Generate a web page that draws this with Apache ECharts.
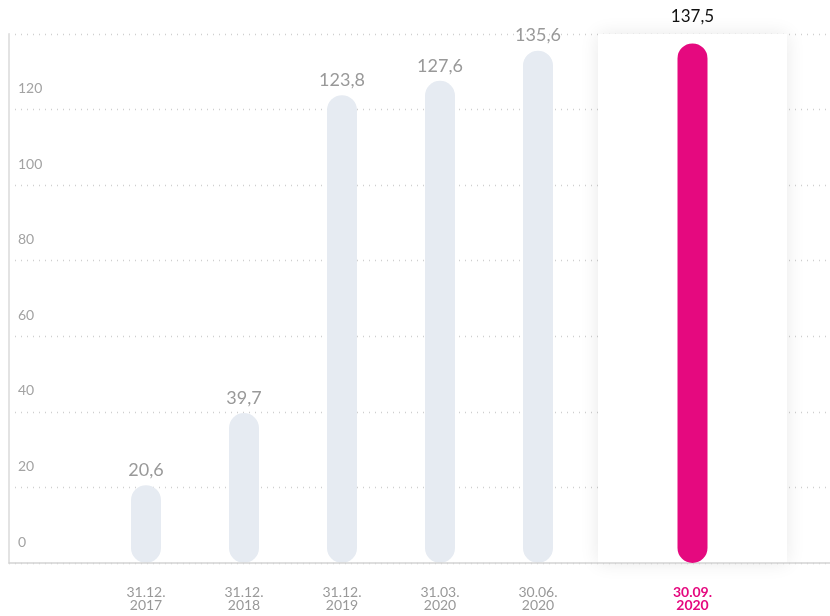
<!DOCTYPE html>
<html>
<head>
<meta charset="utf-8">
<script src="https://cdn.jsdelivr.net/npm/echarts@6/dist/echarts.min.js"></script>
<style>
  html, body { margin: 0; padding: 0; background: #fff; }
  #chart { width: 830px; height: 616px; }
</style>
</head>
<body>
<div id="chart"></div>
<script>
// past dates (grey bars) and the current one (pink bar)
const pastDates = ["31.12.\n2017", "31.12.\n2018", "31.12.\n2019", "31.03.\n2020", "30.06.\n2020"];
const pastValues = [20.6, 39.7, 123.8, 127.6, 135.6];
const currentDate = ["30.09.\n2020"];
const currentValue = [137.5];
const yTicks = { min: 0, max: 140, step: 20 };

const FONT = "Lato, 'Open Sans', sans-serif";
const comma = (p) => String(p.value).replace(".", ",");

const chart = echarts.init(document.getElementById("chart"));

const option = {
  animation: false,
  grid: [
    // full width grid : y scale, dotted lines, baseline
    { left: 9, right: 0, top: 34, bottom: 53 },
    // grey bars
    { left: 97, width: 490, top: 34, bottom: 53 },
    // highlighted box
    {
      left: 598, width: 189, top: 34, bottom: 53,
      show: true, z: 1,
      backgroundColor: "#fff", borderWidth: 0,
      shadowBlur: 18, shadowColor: "rgba(0,0,0,0.09)",
    },
  ],
  xAxis: [
    {
      gridIndex: 0, type: "category", data: [""], z: 3,
      axisTick: { show: false },
      axisLabel: { show: false },
      axisLine: { lineStyle: { color: "#d4d4d4", width: 1.5 } },
    },
    {
      gridIndex: 1, type: "category", data: pastDates,
      axisTick: { show: false },
      axisLine: { show: false },
      axisLabel: {
        margin: 23, color: "#999", fontSize: 14, lineHeight: 13,
        fontFamily: FONT,
      },
    },
    {
      gridIndex: 2, type: "category", data: currentDate,
      axisTick: { show: false },
      axisLine: { show: false },
      axisLabel: {
        margin: 23, color: "#e5097f", fontSize: 14, lineHeight: 13,
        fontFamily: FONT, fontWeight: "bold",
      },
    },
  ],
  yAxis: [
    {
      gridIndex: 0, type: "value",
      min: yTicks.min, max: yTicks.max, interval: yTicks.step,
      axisLine: { show: true, lineStyle: { color: "#e3e3e3", width: 2 } },
      axisTick: { show: false },
      splitLine: { lineStyle: { color: "#cfcfcf", type: [1, 5], width: 1.3 } },
      axisLabel: {
        inside: true, margin: 9, color: "#a3a3a3", fontSize: 14,
        fontFamily: FONT,
        verticalAlign: "bottom", lineHeight: 42,
        formatter: (v) => (v === yTicks.max ? "" : v),
      },
    },
    { gridIndex: 1, type: "value", min: yTicks.min, max: yTicks.max, show: false },
    { gridIndex: 2, type: "value", min: yTicks.min, max: yTicks.max, show: false },
  ],
  series: [
    {
      type: "bar", xAxisIndex: 1, yAxisIndex: 1,
      data: pastValues, barWidth: 30,
      itemStyle: { color: "#e6ebf2", borderRadius: 15 },
      label: {
        show: true, position: "top", distance: 6,
        color: "#999", fontSize: 18, fontFamily: FONT,
        formatter: comma,
      },
    },
    {
      type: "bar", xAxisIndex: 2, yAxisIndex: 2, z: 3,
      data: currentValue, barWidth: 30,
      itemStyle: { color: "#e5097f", borderRadius: 15 },
      label: {
        show: true, position: "top", distance: 18,
        color: "#111", fontSize: 17, fontFamily: FONT,
        formatter: comma,
      },
    },
  ],
};

chart.setOption(option);
</script>
</body>
</html>
